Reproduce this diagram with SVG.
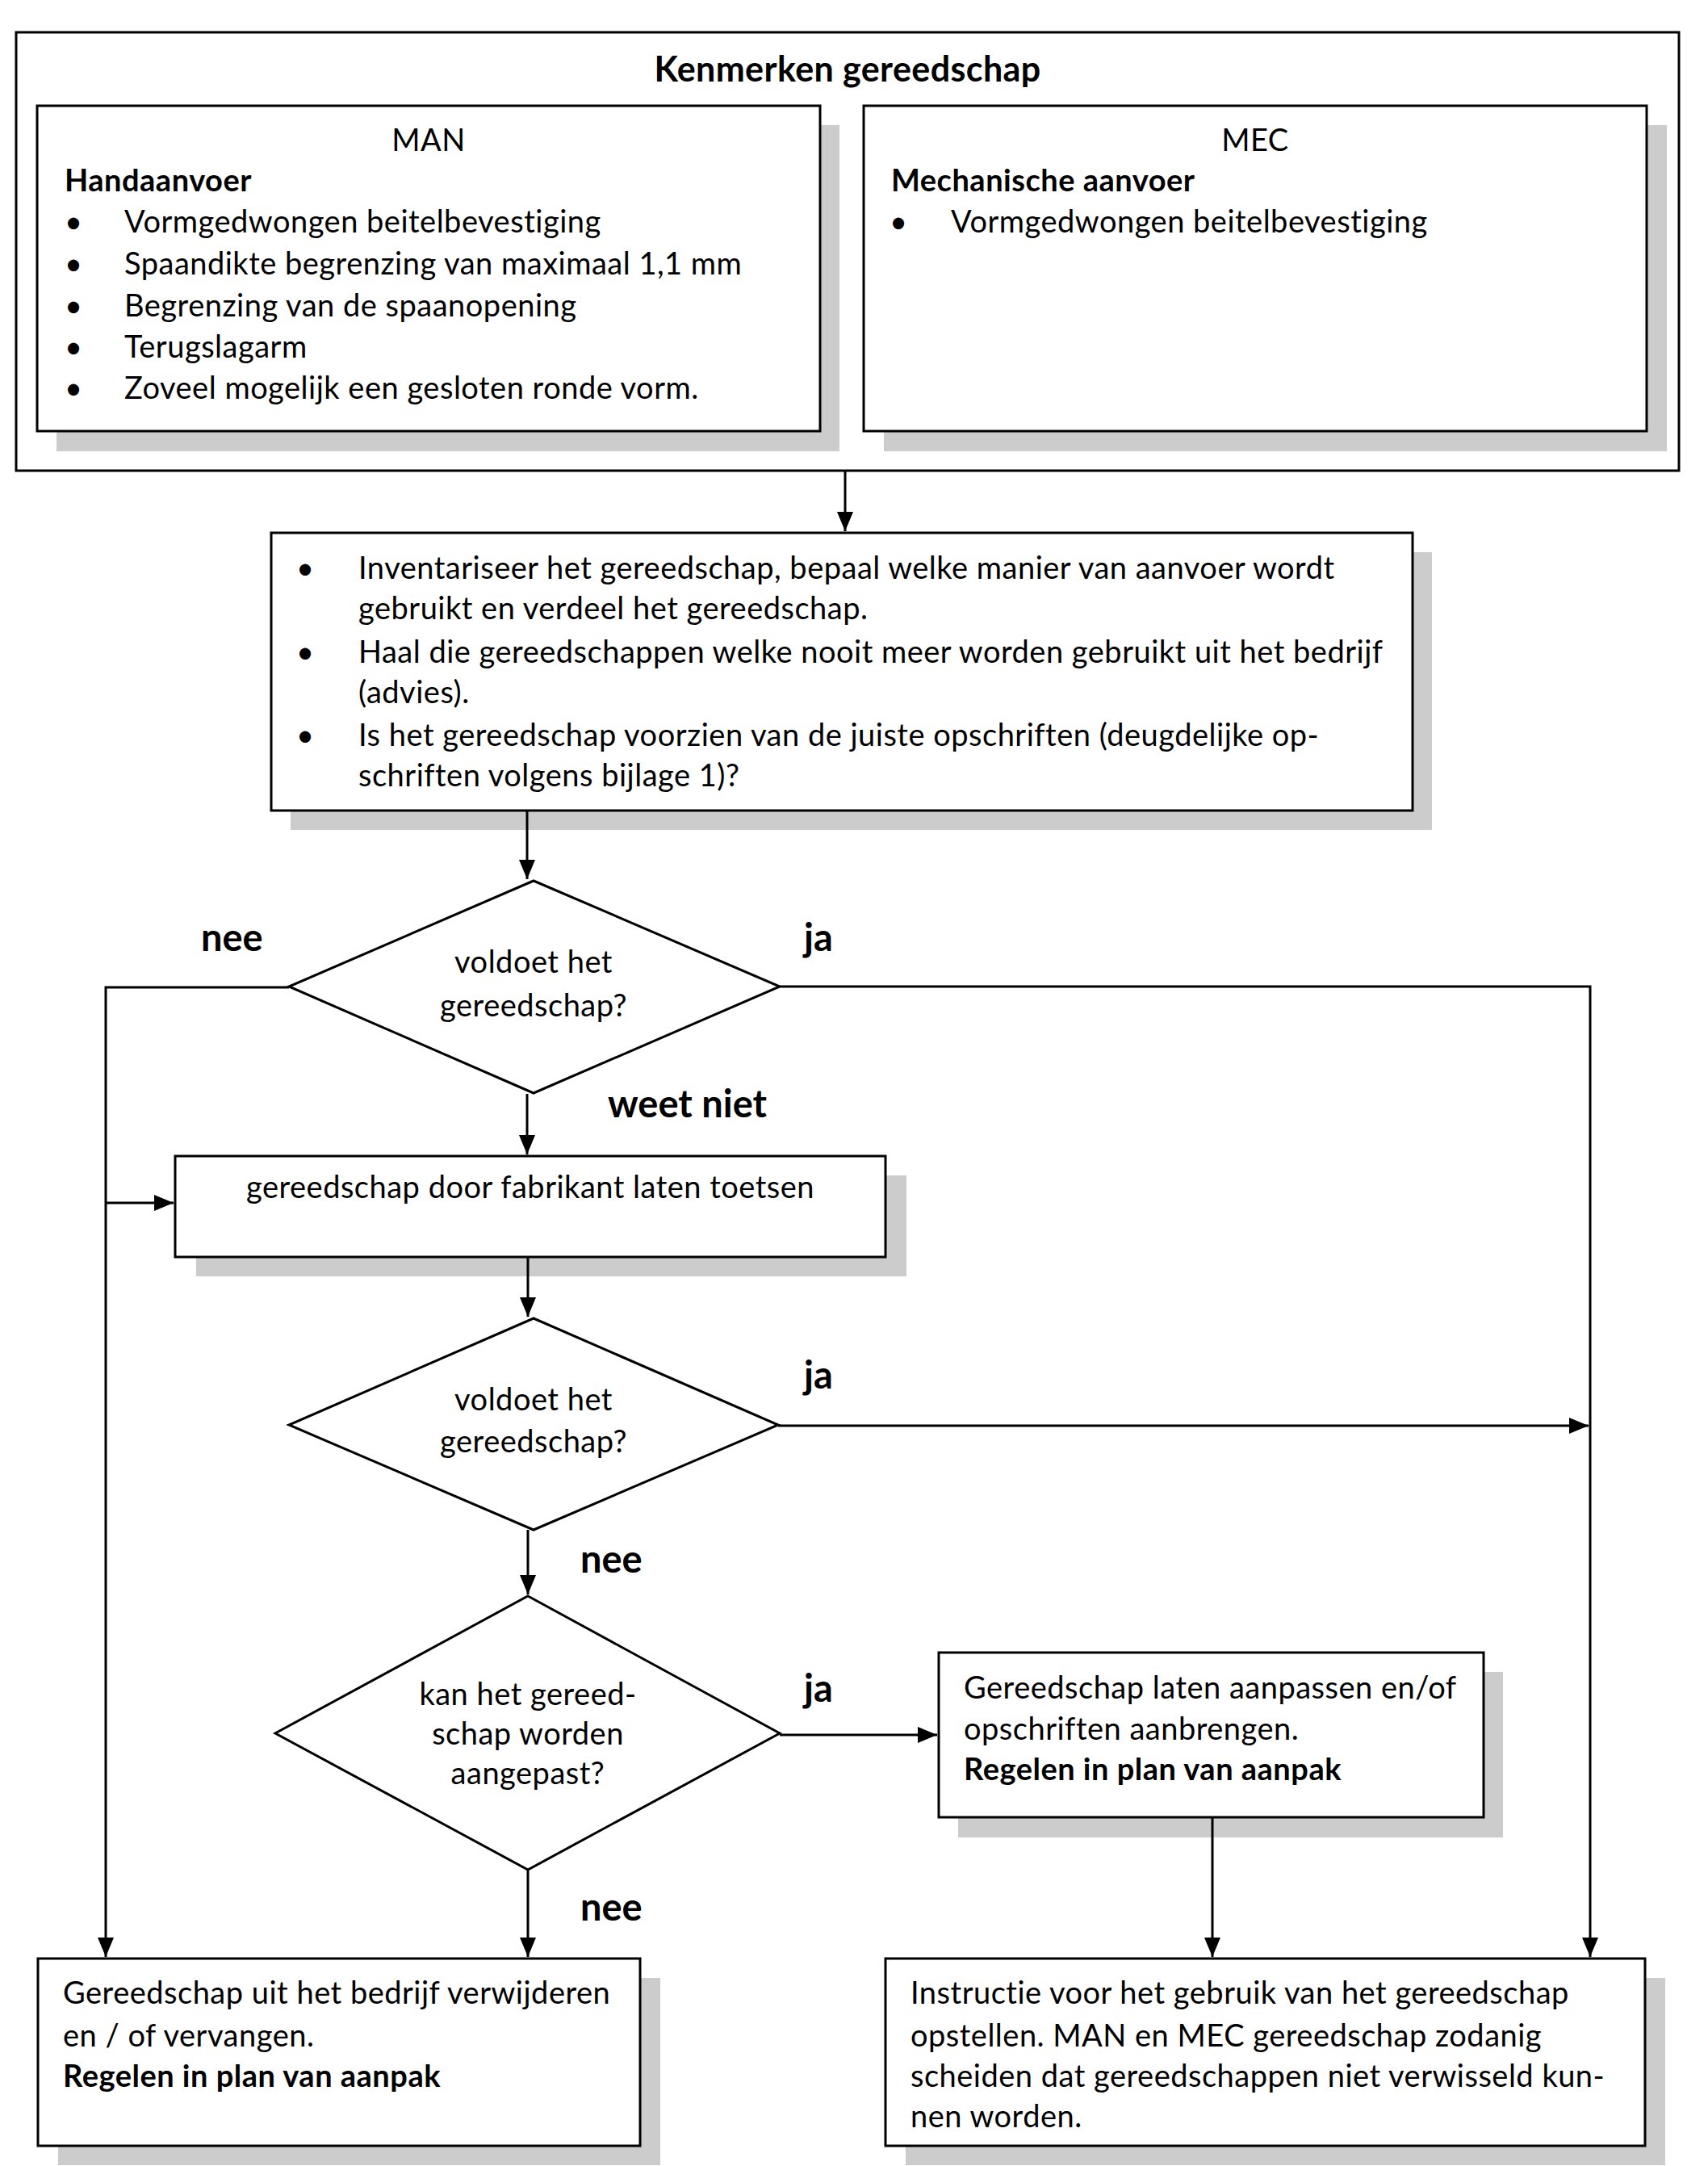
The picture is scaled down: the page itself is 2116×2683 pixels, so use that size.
<svg xmlns="http://www.w3.org/2000/svg" width="2116" height="2683" viewBox="0 0 2116 2683">
<defs>
<marker id="arr" markerUnits="userSpaceOnUse" markerWidth="24" markerHeight="20" refX="24" refY="10" orient="auto">
<path d="M0,0 L24,10 L0,20 z" fill="#000"/>
</marker>
<style>
.box{fill:#fff;stroke:#000;stroke-width:3}
.sh{fill:#cccccc}
.t{font-family:Lato,"Liberation Sans",sans-serif;font-size:38px;letter-spacing:0.5px;fill:#000}
.b{font-weight:bold}
.ttl{font-family:Lato,"Liberation Sans",sans-serif;font-size:43px;letter-spacing:0.4px;font-weight:bold;fill:#000}
.lbl{font-family:Lato,"Liberation Sans",sans-serif;font-size:47px;font-weight:bold;fill:#000}
.c{fill:none;stroke:#000;stroke-width:3}
</style>
</defs>
<rect width="2116" height="2683" fill="#fff"/>

<g id="kenmerken">
<rect class="box" x="20" y="40" width="2060" height="543"/>
<text class="ttl" x="1050" y="101" text-anchor="middle">Kenmerken gereedschap</text>
</g>

<g id="man">
<rect class="sh" x="70" y="155" width="970" height="404"/>
<rect class="box" x="46" y="131" width="970" height="403"/>
<text class="t" x="531" y="187" text-anchor="middle">MAN</text>
<text class="t b" x="80" y="237">Handaanvoer</text>
<text class="t" x="80" y="288">•</text><text class="t" x="154" y="288">Vormgedwongen beitelbevestiging</text>
<text class="t" x="80" y="340">•</text><text class="t" x="154" y="340">Spaandikte begrenzing van maximaal 1,1 mm</text>
<text class="t" x="80" y="392">•</text><text class="t" x="154" y="392">Begrenzing van de spaanopening</text>
<text class="t" x="80" y="443">•</text><text class="t" x="154" y="443">Terugslagarm</text>
<text class="t" x="80" y="494">•</text><text class="t" x="154" y="494">Zoveel mogelijk een gesloten ronde vorm.</text>
</g>

<g id="mec">
<rect class="sh" x="1095" y="155" width="970" height="404"/>
<rect class="box" x="1070" y="131" width="970" height="403"/>
<text class="t" x="1555" y="187" text-anchor="middle">MEC</text>
<text class="t b" x="1104" y="237">Mechanische aanvoer</text>
<text class="t" x="1102" y="288">•</text><text class="t" x="1178" y="288">Vormgedwongen beitelbevestiging</text>
</g>

<g id="inventariseer">
<rect class="sh" x="360" y="684" width="1414" height="344"/>
<rect class="box" x="336" y="660" width="1414" height="344"/>
<text class="t" x="367" y="717">•</text><text class="t" x="444" y="717">Inventariseer het gereedschap, bepaal welke manier van aanvoer wordt</text>
<text class="t" x="444" y="767">gebruikt en verdeel het gereedschap.</text>
<text class="t" x="367" y="821">•</text><text class="t" x="444" y="821">Haal die gereedschappen welke nooit meer worden gebruikt uit het bedrijf</text>
<text class="t" x="444" y="871">(advies).</text>
<text class="t" x="367" y="924">•</text><text class="t" x="444" y="924">Is het gereedschap voorzien van de juiste opschriften (deugdelijke op-</text>
<text class="t" x="444" y="974">schriften volgens bijlage 1)?</text>
</g>

<g id="voldoet1">
<polygon class="box" points="661,1091 966,1222 661,1354 358,1222"/>
<text class="t" x="661" y="1205" text-anchor="middle">voldoet het</text>
<text class="t" x="661" y="1259" text-anchor="middle">gereedschap?</text>
</g>

<g id="toetsen">
<rect class="sh" x="243" y="1456" width="880" height="125"/>
<rect class="box" x="217" y="1432" width="880" height="125"/>
<text class="t" x="657" y="1484" text-anchor="middle">gereedschap door fabrikant laten toetsen</text>
</g>

<g id="voldoet2">
<polygon class="box" points="661,1633 964,1765 661,1895 358,1765"/>
<text class="t" x="661" y="1747" text-anchor="middle">voldoet het</text>
<text class="t" x="661" y="1799" text-anchor="middle">gereedschap?</text>
</g>

<g id="aanpassen">
<polygon class="box" points="654,1977 966,2147 654,2316 341,2147"/>
<text class="t" x="654" y="2112" text-anchor="middle">kan het gereed-</text>
<text class="t" x="654" y="2161" text-anchor="middle">schap worden</text>
<text class="t" x="654" y="2210" text-anchor="middle">aangepast?</text>
</g>

<g id="laten-aanpassen">
<rect class="sh" x="1187" y="2071" width="675" height="205"/>
<rect class="box" x="1163" y="2047" width="675" height="204"/>
<text class="t" x="1194" y="2104">Gereedschap laten aanpassen en/of</text>
<text class="t" x="1194" y="2155">opschriften aanbrengen.</text>
<text class="t b" x="1194" y="2205">Regelen in plan van aanpak</text>
</g>

<g id="verwijderen">
<rect class="sh" x="72" y="2450" width="746" height="232"/>
<rect class="box" x="47" y="2426" width="746" height="232"/>
<text class="t" x="78" y="2482">Gereedschap uit het bedrijf verwijderen</text>
<text class="t" x="78" y="2535">en / of vervangen.</text>
<text class="t b" x="78" y="2585">Regelen in plan van aanpak</text>
</g>

<g id="instructie">
<rect class="sh" x="1122" y="2450" width="941" height="232"/>
<rect class="box" x="1097" y="2426" width="941" height="232"/>
<text class="t" x="1128" y="2482">Instructie voor het gebruik van het gereedschap</text>
<text class="t" x="1128" y="2535">opstellen. MAN en MEC gereedschap zodanig</text>
<text class="t" x="1128" y="2585">scheiden dat gereedschappen niet verwisseld kun-</text>
<text class="t" x="1128" y="2635">nen worden.</text>
</g>

<g id="connectors">
<path class="c" d="M1047,583 V658" marker-end="url(#arr)"/>
<path class="c" d="M653,1004 V1089" marker-end="url(#arr)"/>
<path class="c" d="M653,1355 V1430" marker-end="url(#arr)"/>
<path class="c" d="M654,1557 V1631" marker-end="url(#arr)"/>
<path class="c" d="M654,1895 V1975" marker-end="url(#arr)"/>
<path class="c" d="M654,2316 V2424" marker-end="url(#arr)"/>
<path class="c" d="M358,1223 H131 V2424" marker-end="url(#arr)"/>
<path class="c" d="M131,1490 H215" marker-end="url(#arr)"/>
<path class="c" d="M966,1222 H1970 V2424" marker-end="url(#arr)"/>
<path class="c" d="M964,1766 H1968" marker-end="url(#arr)"/>
<path class="c" d="M966,2149 H1161" marker-end="url(#arr)"/>
<path class="c" d="M1502,2251 V2424" marker-end="url(#arr)"/>
<text class="lbl" x="249" y="1178">nee</text>
<text class="lbl" x="996" y="1178">ja</text>
<text class="lbl" x="753" y="1384">weet niet</text>
<text class="lbl" x="996" y="1720">ja</text>
<text class="lbl" x="719" y="1948">nee</text>
<text class="lbl" x="996" y="2108">ja</text>
<text class="lbl" x="719" y="2379">nee</text>
</g>
</svg>
